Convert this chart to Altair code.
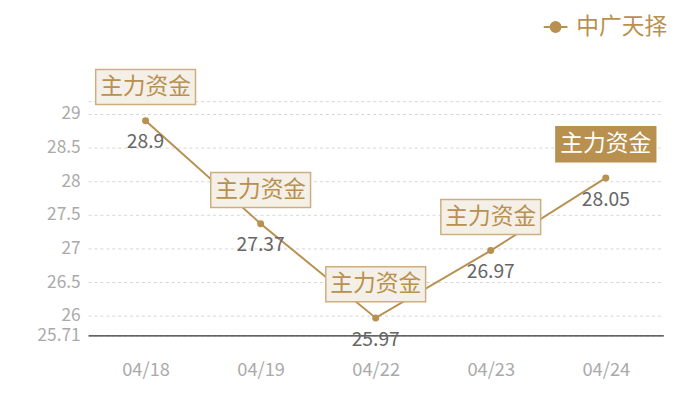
import altair as alt
import pandas as pd

dates = ["04/18", "04/19", "04/22", "04/23", "04/24"]
values = [28.9, 27.37, 25.97, 26.97, 28.05]
tags = ["主力资金", "主力资金", "主力资金", "主力资金", "主力资金"]
highlight = [False, False, False, False, True]
series = "中广天择"
y_ticks = [25.71, 26, 26.5, 27, 27.5, 28, 28.5, 29, 29.19]
y_domain = [25.71, 29.19]

df = pd.DataFrame({"date": dates, "value": values, "tag": tags,
                   "hl": highlight, "series": series})

GOLD = "#b8904f"
FONT = "Noto Sans CJK SC"

x = alt.X("date:N", sort=dates, title=None,
          scale=alt.Scale(paddingInner=0, paddingOuter=0),
          axis=alt.Axis(labelColor="#aaaaaa", labelFontSize=18.5, labelPadding=26,
                        ticks=False, domainColor="#333333", domainWidth=1.2,
                        grid=False, labelAngle=0, labelFont=FONT))
y = alt.Y("value:Q", title=None,
          scale=alt.Scale(domain=y_domain, nice=False, zero=False),
          axis=alt.Axis(values=y_ticks, labelColor="#aaaaaa", labelFontSize=17.5,
                        labelPadding=8, ticks=False, domain=False, grid=True,
                        gridColor="#d6d6d6", gridDash=[3, 3], gridWidth=1,
                        labelFont=FONT, labelOverlap=False,
                        labelExpr="datum.value > 29.1 ? '' : datum.value + ''"))

base = alt.Chart(df).encode(x=x, y=y)

line = base.mark_line(strokeWidth=2).encode(
    color=alt.Color("series:N", scale=alt.Scale(range=[GOLD]), title=None,
                    legend=alt.Legend(orient="none", legendX=460, legendY=-88,
                                      labelFontSize=23, labelColor=GOLD,
                                      labelFont=FONT, labelLimit=200,
                                      symbolType="M-1,0H1M0.42,0A0.42,0.42 0 1,1 -0.42,0A0.42,0.42 0 1,1 0.42,0",
                                      symbolSize=576, symbolStrokeWidth=2,
                                      symbolFillColor=GOLD, symbolStrokeColor="#d4b98e",
                                      labelOffset=8))
)
points = base.mark_point(filled=True, size=50, color=GOLD, opacity=1)

boxes = base.mark_point(shape="M-1,-0.35H1V0.35H-1Z", size=10200, yOffset=-34,
                        filled=True, strokeWidth=1.5, opacity=1).encode(
    fill=alt.condition("datum.hl", alt.value(GOLD), alt.value("#f4efe7")),
    stroke=alt.condition("datum.hl", alt.value(GOLD), alt.value("#cdae80")),
)
box_text = base.mark_text(dy=-34, fontSize=23, font=FONT, baseline="middle").encode(
    text="tag:N",
    color=alt.condition("datum.hl", alt.value("#ffffff"), alt.value(GOLD)),
)
val_text = base.mark_text(dy=22, fontSize=19.5, font=FONT, color="#666666",
                          baseline="middle").encode(text="value:Q")

chart = alt.layer(line, points, boxes, box_text, val_text).properties(
    width=582, height=237,
    autosize=alt.AutoSizeParams(type="none"),
    padding={"left": 81, "top": 92, "right": 29, "bottom": 55},
).configure_view(stroke=None)

chart.save("out.html", embed_options={"renderer": "svg", "actions": False})
